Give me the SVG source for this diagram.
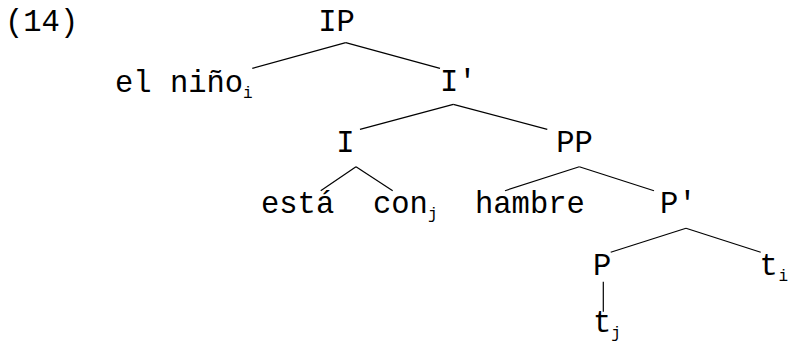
<svg xmlns="http://www.w3.org/2000/svg" width="792" height="354" viewBox="0 0 792 354">
<style>
text { font-family: "Liberation Mono", "Courier New", monospace; font-size: 30.5px; fill: #000; }
.sub { font-size: 16px; }
.edge { stroke: #000; stroke-width: 1.2; fill: none; }
</style>
<rect width="792" height="354" fill="#fff"/>
<g id="label"><text x="5" y="30.5">(14)</text></g>
<g id="connectors">
  <line class="edge" x1="345.7" y1="42.7" x2="252.3" y2="68.3"/>
  <line class="edge" x1="345.7" y1="42.7" x2="440" y2="68.3"/>
  <line class="edge" x1="453.3" y1="104.3" x2="360" y2="129.3"/>
  <line class="edge" x1="453.3" y1="104.3" x2="547.3" y2="129.3"/>
  <line class="edge" x1="356" y1="166.7" x2="320.7" y2="190.7"/>
  <line class="edge" x1="356" y1="166.7" x2="392.7" y2="190.7"/>
  <line class="edge" x1="579.3" y1="166.7" x2="505" y2="190.7"/>
  <line class="edge" x1="579.3" y1="166.7" x2="654" y2="190.7"/>
  <line class="edge" x1="686" y1="228.3" x2="610.7" y2="252.3"/>
  <line class="edge" x1="686" y1="228.3" x2="760.7" y2="252.3"/>
  <line class="edge" x1="603.3" y1="281.7" x2="603.3" y2="311.7"/>
</g>
<g id="node-IP"><text x="318.3" y="30.7">IP</text></g>
<g id="node-elnino"><text x="115" y="92">el niño</text><text class="sub" x="243" y="97.5">i</text></g>
<g id="node-Ibar"><text x="440" y="91">I'</text></g>
<g id="node-I"><text x="336.3" y="151.5">I</text></g>
<g id="node-PP"><text x="556.3" y="151.5">PP</text></g>
<g id="node-esta"><text x="261" y="212.5">está</text></g>
<g id="node-con"><text x="373" y="212.5">con</text><text class="sub" x="428" y="218.5">j</text></g>
<g id="node-hambre"><text x="475" y="212.5">hambre</text></g>
<g id="node-Pbar"><text x="660" y="213">P'</text></g>
<g id="node-P"><text x="593" y="275">P</text></g>
<g id="node-ti"><text x="759.5" y="275">t</text><text class="sub" x="778.5" y="281">i</text></g>
<g id="node-tj"><text x="593" y="331.5">t</text><text class="sub" x="611.3" y="337.5">j</text></g>
</svg>
